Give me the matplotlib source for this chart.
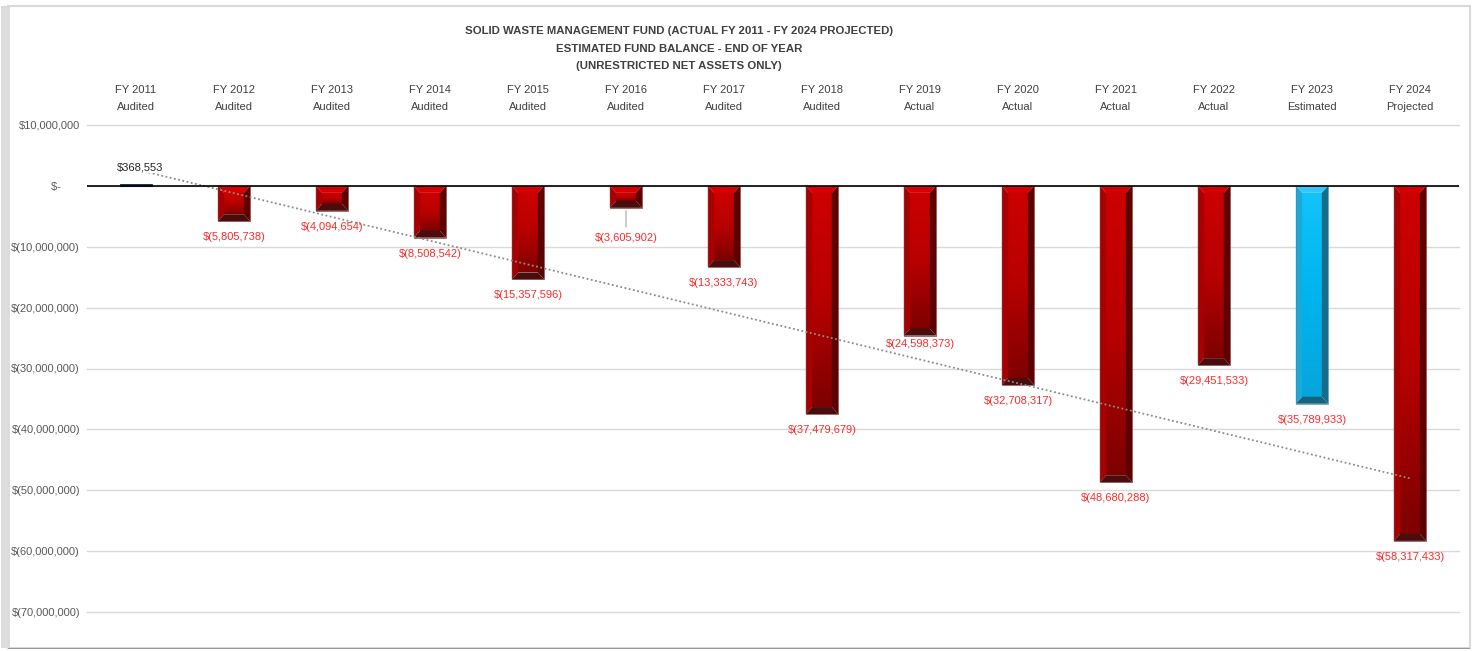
import numpy as np
import matplotlib.pyplot as plt
from matplotlib.patches import Polygon, Rectangle
from matplotlib.colors import LinearSegmentedColormap
from matplotlib.ticker import FuncFormatter

plt.rcParams['font.family'] = ['Liberation Sans Narrow', 'Liberation Sans', 'DejaVu Sans']

# Data
years = ['FY 2011', 'FY 2012', 'FY 2013', 'FY 2014', 'FY 2015', 'FY 2016', 'FY 2017',
         'FY 2018', 'FY 2019', 'FY 2020', 'FY 2021', 'FY 2022', 'FY 2023', 'FY 2024']
status = ['Audited', 'Audited', 'Audited', 'Audited', 'Audited', 'Audited', 'Audited',
          'Audited', 'Actual', 'Actual', 'Actual', 'Actual', 'Estimated', 'Projected']
balance = [368553, -5805738, -4094654, -8508542, -15357596, -3605902, -13333743,
           -37479679, -24598373, -32708317, -48680288, -29451533, -35789933, -58317433]
estimated_idx = 12

title = ('SOLID WASTE MANAGEMENT FUND (ACTUAL FY 2011 - FY 2024 PROJECTED)\n'
         'ESTIMATED FUND BALANCE - END OF YEAR\n'
         '(UNRESTRICTED NET ASSETS ONLY)')

W, H = 1473, 651
fig = plt.figure(figsize=(W / 100, H / 100), dpi=100)
ax = fig.add_axes([87 / W, 1 - 612 / H, (1459 - 87) / W, (612 - 125) / H])

# outer chart frame
fig.patches.append(Rectangle((8 / W, 3 / H), (1470 - 8) / W, (645 - 3) / H, transform=fig.transFigure,
                             fill=False, edgecolor='#d9d9d9', lw=1.5))
fig.patches.append(Rectangle((1 / W, 3 / H), 9 / W, (645 - 3) / H, transform=fig.transFigure,
                             facecolor='#dcdcdc', edgecolor='none'))
fig.patches.append(Rectangle((8 / W, 2 / H), (1470 - 8) / W, 1.5 / H, transform=fig.transFigure,
                             facecolor='#9a9a9a', edgecolor='none'))

x = np.arange(len(years))
bw = 0.33
dx = 0.065
ymin, ymax = -70e6, 10e6
px_per_unit = (612 - 125) / (ymax - ymin)
dy_full = 7 / px_per_unit

red_cm = LinearSegmentedColormap.from_list('r', ['#cc0000', '#b80000', '#7e0000'])
blue_cm = LinearSegmentedColormap.from_list('b', ['#12c3fa', '#00b4ee', '#06a6dc'])
grad = np.linspace(0, 1, 64).reshape(-1, 1)

for i, v in enumerate(balance):
    x0, x1 = i - bw / 2, i + bw / 2
    if v > 0:
        ax.bar(i, v, width=bw, color='#1f3b66', edgecolor='#0d1f3a', lw=0.6, zorder=3)
        continue
    blue = i == estimated_idx
    if blue:
        cm = blue_cm
        c_top, c_left, c_right, c_bot = '#33c8f5', '#1aa9d8', '#156d8e', '#17637d'
    else:
        cm = red_cm
        c_top, c_left, c_right, c_bot = '#d60000', '#a80000', '#5e0000', '#4a0d0d'
    dy = min(dy_full, abs(v) / 3)
    ax.imshow(grad, cmap=cm, aspect='auto', extent=[x0 + dx, x1 - dx, v + dy, -dy],
              zorder=3, interpolation='bilinear')
    polys = [
        ([(x0, 0), (x1, 0), (x1 - dx, -dy), (x0 + dx, -dy)], c_top),
        ([(x0, 0), (x0 + dx, -dy), (x0 + dx, v + dy), (x0, v)], c_left),
        ([(x1, 0), (x1 - dx, -dy), (x1 - dx, v + dy), (x1, v)], c_right),
        ([(x0, v), (x1, v), (x1 - dx, v + dy), (x0 + dx, v + dy)], c_bot),
    ]
    for pts, c in polys:
        ax.add_patch(Polygon(pts, closed=True, facecolor=c, edgecolor='none', zorder=3))
    ax.add_patch(Rectangle((x0, v), bw, -v, fill=False, edgecolor='#7a3030' if not blue else '#3b8fb0',
                           lw=0.5, zorder=3.5))

# linear trendline
coef = np.polyfit(x, balance, 1)
ax.plot([x[0], x[-1]], np.polyval(coef, [x[0], x[-1]]), color='#8c8c8c', lw=1.3,
        linestyle=(0, (1, 1.4)), zorder=4)

# data labels
def money(v):
    if v < 0:
        return '$({:,.0f})'.format(-v)
    return '${:,.0f}'.format(v)

fs = 8
label_offsets = {5: -30, 8: -8}
for i, v in enumerate(balance):
    if v > 0:
        ax.annotate(money(v), (i, v), xytext=(4, 16), textcoords='offset pixels', ha='center',
                    va='center', fontsize=fs, color='#262626', zorder=5,
                    bbox=dict(boxstyle='square,pad=0.05', fc='white', ec='none'))
        continue
    off = label_offsets.get(i, -16)
    ax.annotate(money(v), (i, v), xytext=(0, off), textcoords='offset pixels', ha='center',
                va='center', fontsize=fs, color='#ff2a2a', zorder=5)
    if off < -20:
        ax.annotate('', (i, v), xytext=(0, off + 8), textcoords='offset pixels',
                    arrowprops=dict(arrowstyle='-', color='#a6a6a6', lw=0.8))

ax.set_xlim(-0.5, len(years) - 0.5)
ax.set_ylim(ymin, ymax)
ax.set_yticks(np.arange(ymin, ymax + 1, 10e6))

def yfmt(v, pos):
    if abs(v) < 1:
        return '$-      '
    return money(v)

ax.yaxis.set_major_formatter(FuncFormatter(yfmt))
ax.tick_params(axis='y', length=0, pad=5, labelsize=fs, labelcolor='#595959')
ax.set_xticks(x)
ax.set_xticklabels([f'{a}\n{b}' for a, b in zip(years, status)], linespacing=1.9)
ax.xaxis.tick_top()
ax.tick_params(axis='x', length=0, pad=9, labelsize=fs, labelcolor='#404040')
ax.grid(axis='y', color='#d9d9d9', lw=1, zorder=0)
for gl in ax.get_ygridlines():
    gl.set_clip_on(False)
ax.set_axisbelow(True)
ax.axhline(0, color='black', lw=1.2, zorder=4)
for s in ax.spines.values():
    s.set_visible(False)

fig.text(679 / W, 1 - 48.5 / H, title, ha='center', va='center', fontsize=8.2, fontweight='bold',
         color='#404040', linespacing=1.95)

fig.savefig('out.png', dpi=100)
